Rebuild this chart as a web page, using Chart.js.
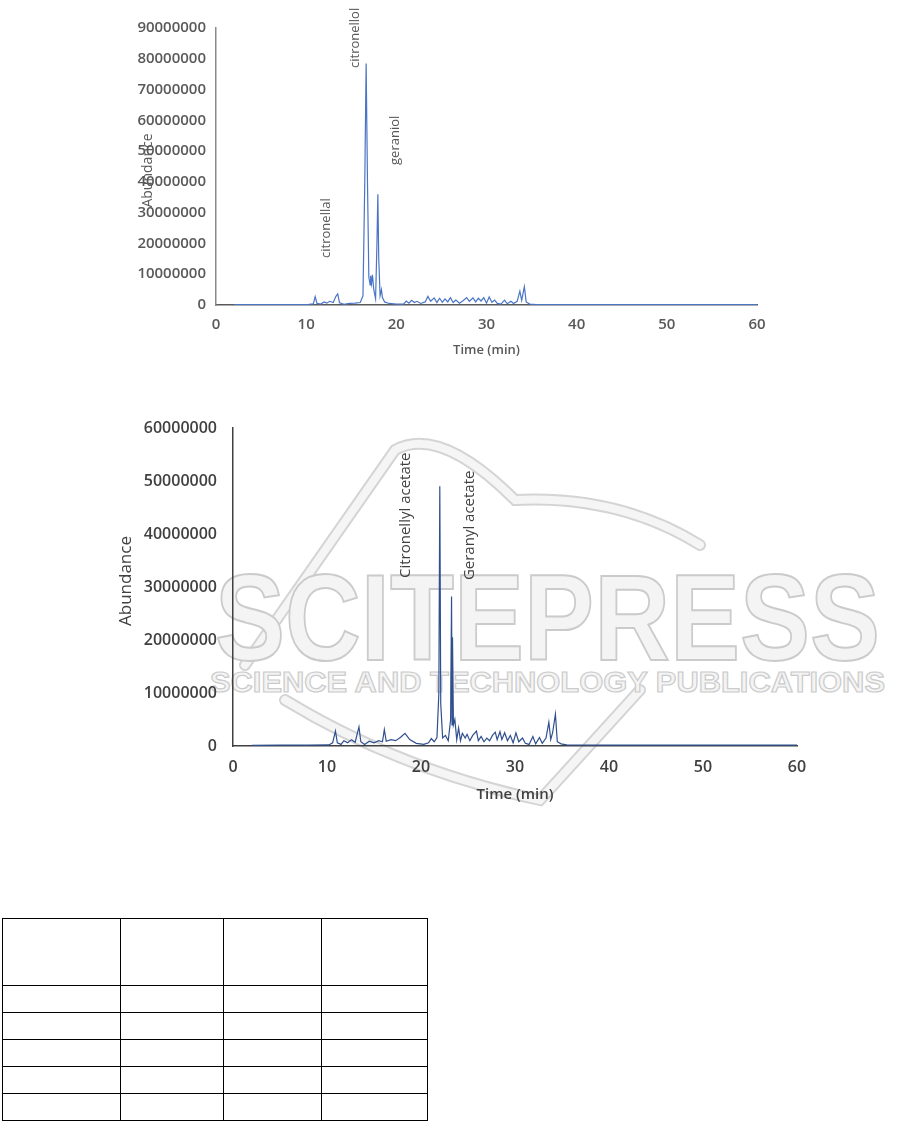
<!DOCTYPE html>
<html>
<head>
<meta charset="utf-8">
<title>Chromatograms</title>
<script src="https://cdn.jsdelivr.net/npm/chart.js@4.4.1/dist/chart.umd.min.js"></script>
<style>
    html, body { margin: 0; padding: 0; background: #fff; }
    body { width: 901px; height: 1121px; position: relative; overflow: hidden; font-family: "Open Sans", sans-serif; }
    #watermark { position: absolute; left: 0; top: 0; z-index: 0; }
    .chart-box { position: absolute; z-index: 1; }
    #box-1 { left: 110px; top: 0; }
    #box-2 { left: 110px; top: 400px; }
    #blank-table { position: absolute; left: 2px; top: 918px; border-collapse: collapse; z-index: 1; }
    #blank-table td { border: 1px solid #000; padding: 0; }
    #blank-table tr.head td { height: 66px; }
    #blank-table tr.row td { height: 26px; }
</style>
</head>
<body>

<svg id="watermark" width="901" height="1121">
    <g fill="none" stroke-linecap="round">
        <g stroke="#d4d4d4" stroke-width="12">
            <path d="M245 665 L395 450 Q440 425 515 500 Q620 495 700 545"/>
            <path d="M285 700 Q400 770 540 800 L640 690"/>
        </g>
        <g stroke="#f5f5f5" stroke-width="8">
            <path d="M245 665 L395 450 Q440 425 515 500 Q620 495 700 545"/>
            <path d="M285 700 Q400 770 540 800 L640 690"/>
        </g>
    </g>
    <text x="215" y="660" font-family="Liberation Sans, sans-serif" font-weight="bold" font-size="122"
          textLength="665" lengthAdjust="spacingAndGlyphs" fill="#f4f4f4" stroke="#cbcbcb" stroke-width="2">SCITEPRESS</text>
    <text x="210" y="692" font-family="Liberation Sans, sans-serif" font-weight="bold" font-size="30"
          textLength="675" lengthAdjust="spacingAndGlyphs" fill="#f4f4f4" stroke="#cbcbcb" stroke-width="1.2">SCIENCE AND TECHNOLOGY PUBLICATIONS</text>
</svg>

<div class="chart-box" id="box-1"><canvas id="chart-1" width="680" height="370"></canvas></div>
<div class="chart-box" id="box-2"><canvas id="chart-2" width="720" height="420"></canvas></div>

<table id="blank-table">
    <tr class="head"><td style="width:117px"></td><td style="width:102px"></td><td style="width:97px"></td><td style="width:105px"></td></tr>
    <tr class="row"><td></td><td></td><td></td><td></td></tr>
    <tr class="row"><td></td><td></td><td></td><td></td></tr>
    <tr class="row"><td></td><td></td><td></td><td></td></tr>
    <tr class="row"><td></td><td></td><td></td><td></td></tr>
    <tr class="row"><td></td><td></td><td></td><td></td></tr>
</table>

<script>
// Axis ticks
const timeTicks = [0, 10, 20, 30, 40, 50, 60];
const abundanceTicks1 = [0, 10000000, 20000000, 30000000, 40000000, 50000000, 60000000, 70000000, 80000000, 90000000];
const abundanceTicks2 = [0, 10000000, 20000000, 30000000, 40000000, 50000000, 60000000];

// Chromatogram 1
const time1 = [2.0, 5, 8, 10.3, 10.8, 11.0, 11.2, 11.6, 12.0, 12.3, 12.6, 13.0, 13.3, 13.5, 13.7, 14.2, 14.8, 15.4, 16.0,
    16.3, 16.5, 16.65, 16.8, 16.95, 17.1, 17.15, 17.25, 17.35, 17.5, 17.7, 17.85, 17.95, 18.05, 18.2, 18.35, 18.45, 18.7,
    19.2, 20, 20.8, 21.1, 21.4, 21.7, 22.0, 22.3, 22.7, 23.2, 23.5, 23.8, 24.2, 24.5, 24.8, 25.1, 25.4, 25.7, 26.0, 26.3,
    26.6, 27.0, 27.4, 27.8, 28.1, 28.5, 28.8, 29.1, 29.4, 29.7, 30.0, 30.3, 30.6, 30.9, 31.2, 31.6, 32.0, 32.3, 32.7,
    33.0, 33.4, 33.7, 33.9, 34.2, 34.4, 34.8, 35.5, 40, 50, 60];
const abundance1 = [1e5, 1e5, 1e5, 2e5, 4e5, 2.7e6, 5e5, 3e5, 1.0e6, 6e5, 1.2e6, 8e5, 2.8e6, 3.6e6, 7e5, 2e5, 5e5, 6e5, 8e5,
    3e6, 4e7, 7.85e7, 4e7, 9e6, 6.5e6, 9.5e6, 7e6, 9.8e6, 5e6, 2e6, 2e7, 3.6e7, 1.5e7, 3e6, 5e6, 2.5e6, 1e6,
    5e5, 3e5, 3e5, 1.3e6, 6e5, 1.5e6, 8e5, 1.2e6, 5e5, 1e6, 2.8e6, 1.2e6, 2.3e6, 8e5, 2.2e6, 9e5, 2e6, 1e6, 2.4e6, 8e5,
    1.6e6, 6e5, 1.4e6, 2.4e6, 1.2e6, 2.3e6, 1e6, 2.2e6, 1.3e6, 2.4e6, 6e5, 2.6e6, 9e5, 1.6e6, 5e5, 3e5, 1.6e6, 4e5, 1.2e6,
    5e5, 1.2e6, 4.5e6, 1.5e6, 6e6, 1e6, 3e5, 1e5, 1e5, 1e5, 1e5];

// Chromatogram 2
const time2 = [2.0, 5, 8, 10.2, 10.6, 10.9, 11.1, 11.5, 11.8, 12.2, 12.6, 13.0, 13.2, 13.4, 13.6, 14.0, 14.5, 15.0, 15.5,
    15.9, 16.1, 16.3, 16.8, 17.3, 17.8, 18.3, 18.8, 19.5, 20.3, 20.8, 21.1, 21.4, 21.7, 21.9, 22.0, 22.1, 22.3, 22.6,
    22.9, 23.15, 23.25, 23.3, 23.35, 23.45, 23.6, 23.8, 24.0, 24.2, 24.4, 24.7, 24.9, 25.2, 25.5, 25.9, 26.1, 26.4,
    26.7, 27.0, 27.3, 27.6, 27.9, 28.1, 28.4, 28.6, 28.9, 29.2, 29.5, 29.8, 30.1, 30.4, 30.8, 31.1, 31.5, 31.9, 32.2,
    32.6, 32.9, 33.3, 33.6, 33.8, 34.0, 34.3, 34.5, 34.9, 35.5, 40, 60];
const abundance2 = [1e5, 1.5e5, 1.5e5, 2e5, 6e5, 2.8e6, 6e5, 3e5, 1.0e6, 6e5, 1.2e6, 7e5, 2.2e6, 3.6e6, 8e5, 3e5, 9e5, 6e5, 1.0e6,
    8e5, 3.1e6, 9e5, 1.2e6, 1.0e6, 1.6e6, 2.4e6, 1.2e6, 5e5, 3e5, 6e5, 1.4e6, 8e5, 1.6e6, 1e7, 4.9e7, 8e6, 1.5e6, 2e6,
    1e6, 5e6, 2.82e7, 4e6, 2.05e7, 4e6, 5e6, 1.2e6, 3.4e6, 1e6, 2.4e6, 1.5e6, 2.2e6, 1.0e6, 2.0e6, 2.8e6, 1e6, 1.8e6,
    8e5, 1.5e6, 1.0e6, 2.0e6, 2.6e6, 1.2e6, 2.7e6, 1.2e6, 2.5e6, 1.0e6, 2.0e6, 6e5, 2.5e6, 8e5, 1.5e6, 5e5, 3e5, 1.8e6, 4e5,
    1.6e6, 5e5, 1.5e6, 4.5e6, 1.2e6, 2.5e6, 6.0e6, 8e5, 4e5, 2e5, 1.5e5, 1.5e5];

// Peak names: retention time of the label and abundance at the label's start
const peakNames1 = ['citronellal', 'citronellol', 'geraniol'];
const peakTimes1 = [12.2, 15.4, 19.85];
const peakLevels1 = [15300000, 77000000, 45500000];
const peakNames2 = ['Citronellyl acetate', 'Geranyl acetate'];
const peakTimes2 = [18.4, 25.2];
const peakLevels2 = [31700000, 31300000];

function points(xs, ys) {
    return xs.map(function (x, i) { return { x: x, y: ys[i] }; });
}

// Rotated peak names + y title drawn over the plot
const peakLabels = {
    id: 'peakLabels',
    afterDatasetsDraw: function (chart, args, opts) {
        const ctx = chart.ctx;
        const xs = chart.scales.x;
        const ys = chart.scales.y;
        ctx.save();
        ctx.fillStyle = opts.color;
        ctx.font = opts.font;
        ctx.textAlign = 'left';
        ctx.textBaseline = 'middle';
        opts.names.forEach(function (name, i) {
            ctx.save();
            ctx.translate(xs.getPixelForValue(opts.times[i]), ys.getPixelForValue(opts.levels[i]));
            ctx.rotate(-Math.PI / 2);
            ctx.fillText(name, 0, 0);
            ctx.restore();
        });
        const area = chart.chartArea;
        ctx.font = opts.titleFont;
        ctx.textAlign = 'center';
        ctx.translate(area.left - opts.titleOffset, (area.top + area.bottom) / 2 + opts.titleShift);
        ctx.rotate(-Math.PI / 2);
        ctx.fillText('Abundance', 0, 0);
        ctx.restore();
    }
};

function makeChart(id, cfg) {
    return new Chart(document.getElementById(id).getContext('2d'), {
        type: 'scatter',
        data: {
            datasets: [{
                data: points(cfg.times, cfg.values),
                showLine: true,
                borderColor: cfg.lineColor,
                borderWidth: 1.2,
                pointRadius: 0,
                tension: 0
            }]
        },
        options: {
            responsive: false,
            animation: false,
            layout: { padding: { top: 28, right: 33, left: 0, bottom: 0 } },
            plugins: {
                legend: { display: false },
                tooltip: { enabled: false },
                peakLabels: {
                    names: cfg.names, times: cfg.peakTimes, levels: cfg.levels,
                    font: cfg.labelFont, titleFont: cfg.titleFont, color: cfg.textColor,
                    titleOffset: cfg.titleOffset, titleShift: cfg.titleShift
                }
            },
            scales: {
                x: {
                    type: 'linear',
                    min: 0, max: 60,
                    afterBuildTicks: function (s) { s.ticks = timeTicks.map(function (v) { return { value: v }; }); },
                    grid: { display: false, drawTicks: false },
                    border: { display: true, color: cfg.xAxisColor, width: 1.5 },
                    ticks: { padding: cfg.xPad, color: cfg.textColor, font: cfg.tickFont, maxRotation: 0 },
                    title: { display: true, text: 'Time (min)', color: cfg.textColor, font: cfg.xTitleFont, padding: { top: 0, bottom: cfg.xTitlePad } },
                    afterFit: function (s) { s.height = cfg.xHeight; }
                },
                y: {
                    min: 0, max: cfg.yTicks[cfg.yTicks.length - 1],
                    afterBuildTicks: function (s) { s.ticks = cfg.yTicks.map(function (v) { return { value: v }; }); },
                    grid: { display: false, drawTicks: false },
                    border: { display: true, color: cfg.yAxisColor, width: 1.5 },
                    ticks: { padding: cfg.yPad, color: cfg.textColor, font: cfg.tickFont, callback: function (v) { return String(v); } },
                    afterFit: function (s) { s.width = cfg.yWidth; }
                }
            }
        },
        plugins: [peakLabels]
    });
}

makeChart('chart-1', {
    times: time1, values: abundance1, yTicks: abundanceTicks1,
    names: peakNames1, peakTimes: peakTimes1, levels: peakLevels1,
    lineColor: '#4a74c6', textColor: '#595959', xAxisColor: '#595959', yAxisColor: '#8a8a8a',
    tickFont: { family: 'Open Sans', size: 15, weight: '600' },
    labelFont: '13px "Open Sans"', titleFont: '14px "Open Sans"',
    xTitleFont: { family: 'Open Sans', size: 13, weight: '600' },
    xPad: 11, yPad: 10, xHeight: 65, xTitlePad: 12, yWidth: 106,
    titleOffset: 68, titleShift: 4
});

makeChart('chart-2', {
    times: time2, values: abundance2, yTicks: abundanceTicks2,
    names: peakNames2, peakTimes: peakTimes2, levels: peakLevels2,
    lineColor: '#2f4f8f', textColor: '#404040', xAxisColor: '#404040', yAxisColor: '#404040',
    tickFont: { family: 'Open Sans', size: 16, weight: '600' },
    labelFont: '15px "Open Sans"', titleFont: '17px "Open Sans"',
    xTitleFont: { family: 'Open Sans', size: 15, weight: '600' },
    xPad: 12, yPad: 16, xHeight: 74, xTitlePad: 16, yWidth: 123,
    titleOffset: 107, titleShift: -6
});
</script>
</body>
</html>
